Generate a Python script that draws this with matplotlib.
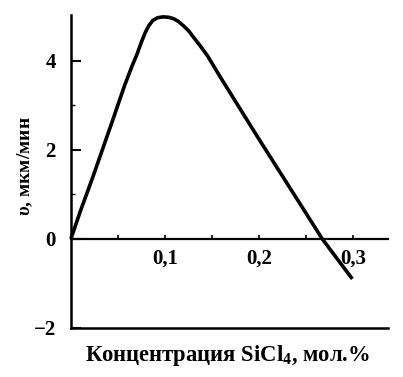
import matplotlib
matplotlib.use("Agg")
import matplotlib.pyplot as plt
from matplotlib.ticker import FixedLocator

plt.rcParams['font.family'] = ['Liberation Serif', 'DejaVu Serif']
plt.rcParams['font.weight'] = 'bold'
plt.rcParams['mathtext.fontset'] = 'custom'
plt.rcParams['mathtext.it'] = 'Liberation Serif:italic:bold'
plt.rcParams['mathtext.rm'] = 'Liberation Serif:bold'
plt.rcParams['mathtext.bf'] = 'Liberation Serif:bold'

# data
conc = [0, 0.010, 0.023, 0.045, 0.057, 0.065, 0.070, 0.075, 0.079, 0.083, 0.087,
        0.092, 0.098, 0.104, 0.109, 0.114, 0.119, 0.125, 0.130, 0.137, 0.145,
        0.159, 0.200, 0.240, 0.267, 0.299]
rate = [0, 0.62, 1.37, 2.70, 3.44, 3.88, 4.13, 4.42, 4.63, 4.79, 4.90,
        4.96, 4.98, 4.97, 4.94, 4.88, 4.79, 4.67, 4.53, 4.34, 4.11,
        3.62, 2.23, 0.9, 0.0, -0.9]
xticks = [0.1, 0.2, 0.3]
xticklabels = ['0,1', '0,2', '0,3']
yticks = [-2, 0, 2, 4]
yticklabels = ['\u22122', '0', '2', '4']

fig = plt.figure(figsize=(4.03, 3.77), dpi=100)
ax = fig.add_axes([0.176, 0.130, 0.787, 0.830])
ax.plot(conc, rate, color='black', lw=2.6, solid_capstyle='butt',
        solid_joinstyle='round', clip_on=False)

ax.set_xlim(0, 0.337)
ax.set_ylim(-2, 5.02)

for s in ['top', 'right']:
    ax.spines[s].set_visible(False)
ax.spines['bottom'].set_position(('data', 0))
ax.spines['bottom'].set_linewidth(1.6)
ax.spines['left'].set_linewidth(1.8)
ax.axhline(-2, color='black', lw=1.8, clip_on=False)

ax.set_xticks(xticks)
ax.set_xticklabels(xticklabels)
ax.xaxis.set_minor_locator(FixedLocator([0.05, 0.15, 0.25]))
ax.tick_params(axis='x', which='both', direction='in', length=3, width=1.2,
               pad=7, labelsize=15)
ax.set_yticks(yticks)
ax.set_yticklabels(yticklabels)
ax.yaxis.set_minor_locator(FixedLocator([1, 3]))
ax.tick_params(axis='y', which='major', direction='in', length=7, width=1.5,
               pad=11, labelsize=15)
ax.tick_params(axis='y', which='minor', direction='in', length=3, width=1.0)

fig.text(0.062, 0.56, r'$\it{\upsilon}$, мкм/мин', rotation=90, ha='center', va='center',
         fontsize=14)
fig.text(0.564, 0.058, 'Концентрация SiCl$_4$, мол.%', ha='center', va='center',
         fontsize=16.3)

fig.savefig('out.png', dpi=100)
